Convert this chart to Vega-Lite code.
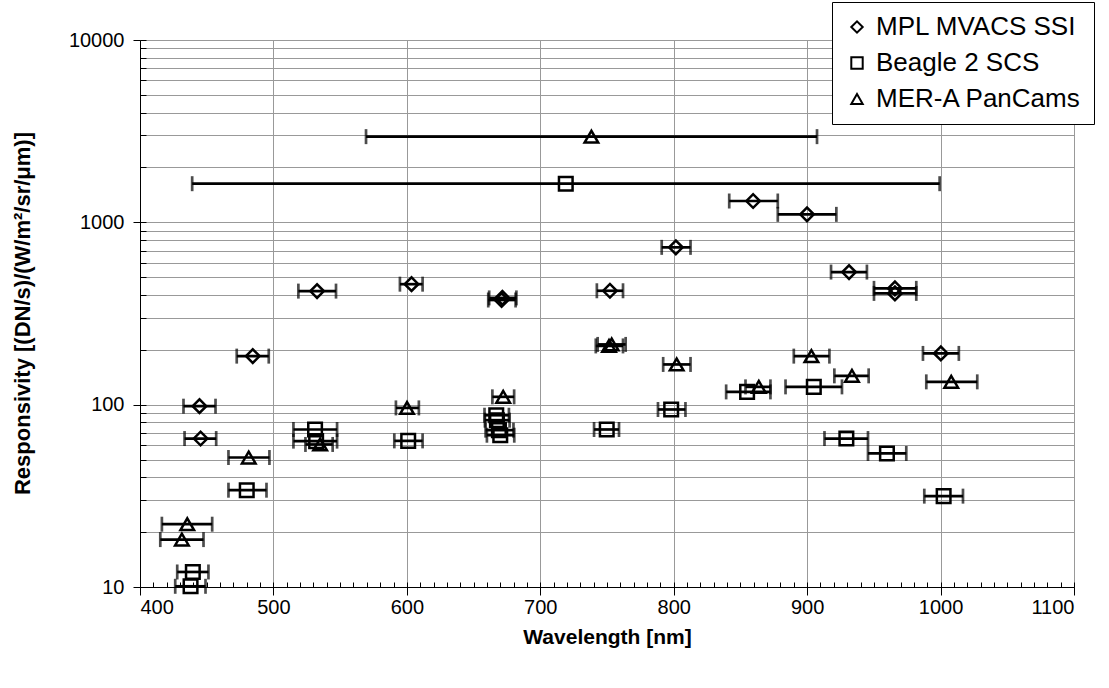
{
  "$schema": "https://vega.github.io/schema/vega-lite/v6.json",
  "width": 934,
  "height": 547,
  "autosize": "none",
  "padding": {"left": 140, "top": 40, "right": 35, "bottom": 101},
  "background": "white",
  "config": {
    "view": {"stroke": "black", "strokeWidth": 1},
    "font": "Liberation Sans",
    "axis": {
      "labelFont": "Liberation Sans",
      "titleFont": "Liberation Sans",
      "labelColor": "black",
      "titleColor": "black",
      "domainColor": "black",
      "tickColor": "black",
      "gridColor": "#999999",
      "gridOpacity": 1,
      "gridWidth": 1
    }
  },
  "datasets": {
    "pts": [
      {"s": "MPL MVACS SSI", "x": 444.6, "v": 98.1, "lo": 432.6, "hi": 456.6},
      {"s": "MPL MVACS SSI", "x": 445.4, "v": 65.2, "lo": 433.4, "hi": 457.1},
      {"s": "MPL MVACS SSI", "x": 484.5, "v": 184.6, "lo": 472.5, "hi": 496.5},
      {"s": "MPL MVACS SSI", "x": 532.7, "v": 419.6, "lo": 518.7, "hi": 546.9},
      {"s": "MPL MVACS SSI", "x": 603.5, "v": 458, "lo": 594.8, "hi": 611.8},
      {"s": "MPL MVACS SSI", "x": 671.6, "v": 385, "lo": 661.7, "hi": 682.1},
      {"s": "MPL MVACS SSI", "x": 671.0, "v": 375, "lo": 661.0, "hi": 681.5},
      {"s": "MPL MVACS SSI", "x": 752.2, "v": 421.4, "lo": 742.4, "hi": 762.0},
      {"s": "MPL MVACS SSI", "x": 801.6, "v": 729, "lo": 791.0, "hi": 812.6},
      {"s": "MPL MVACS SSI", "x": 859.5, "v": 1309, "lo": 841.6, "hi": 878.0},
      {"s": "MPL MVACS SSI", "x": 899.9, "v": 1106, "lo": 878.0, "hi": 921.9},
      {"s": "MPL MVACS SSI", "x": 931.4, "v": 533.6, "lo": 917.9, "hi": 944.8},
      {"s": "MPL MVACS SSI", "x": 965.8, "v": 434.3, "lo": 950.1, "hi": 981.8},
      {"s": "MPL MVACS SSI", "x": 965.8, "v": 407.6, "lo": 950.1, "hi": 981.8},
      {"s": "MPL MVACS SSI", "x": 1000.2, "v": 191, "lo": 986.8, "hi": 1013.7},
      {"s": "Beagle 2 SCS", "x": 719.1, "v": 1629, "lo": 439.1, "hi": 999.3},
      {"s": "Beagle 2 SCS", "x": 437.9, "v": 10.09, "lo": 426.4, "hi": 449.1},
      {"s": "Beagle 2 SCS", "x": 439.6, "v": 12.09, "lo": 427.9, "hi": 451.3},
      {"s": "Beagle 2 SCS", "x": 480.0, "v": 33.96, "lo": 466.3, "hi": 494.8},
      {"s": "Beagle 2 SCS", "x": 531.2, "v": 73.1, "lo": 515.0, "hi": 547.7},
      {"s": "Beagle 2 SCS", "x": 532.0, "v": 63.1, "lo": 515.0, "hi": 547.7},
      {"s": "Beagle 2 SCS", "x": 601.0, "v": 63.3, "lo": 590.6, "hi": 611.8},
      {"s": "Beagle 2 SCS", "x": 667.0, "v": 87.5, "lo": 658.2, "hi": 676.5},
      {"s": "Beagle 2 SCS", "x": 667.5, "v": 82.2, "lo": 658.5, "hi": 677.0},
      {"s": "Beagle 2 SCS", "x": 669.0, "v": 72.5, "lo": 659.0, "hi": 679.9},
      {"s": "Beagle 2 SCS", "x": 670.0, "v": 68.0, "lo": 660.0, "hi": 680.5},
      {"s": "Beagle 2 SCS", "x": 749.8, "v": 73.1, "lo": 740.3, "hi": 759.0},
      {"s": "Beagle 2 SCS", "x": 798.1, "v": 94.1, "lo": 788.2, "hi": 808.8},
      {"s": "Beagle 2 SCS", "x": 855.0, "v": 117.5, "lo": 839.3, "hi": 872.5},
      {"s": "Beagle 2 SCS", "x": 905.0, "v": 125.2, "lo": 883.8, "hi": 926.1},
      {"s": "Beagle 2 SCS", "x": 929.4, "v": 65.2, "lo": 913.0, "hi": 945.6},
      {"s": "Beagle 2 SCS", "x": 959.8, "v": 54.0, "lo": 945.6, "hi": 974.3},
      {"s": "Beagle 2 SCS", "x": 1002.3, "v": 31.5, "lo": 987.8, "hi": 1016.8},
      {"s": "MER-A PanCams", "x": 738.3, "v": 2951, "lo": 569.4, "hi": 907.4},
      {"s": "MER-A PanCams", "x": 435.4, "v": 22.1, "lo": 416.4, "hi": 454.1},
      {"s": "MER-A PanCams", "x": 431.4, "v": 18.2, "lo": 415.2, "hi": 447.6},
      {"s": "MER-A PanCams", "x": 481.5, "v": 51.3, "lo": 466.3, "hi": 497.0},
      {"s": "MER-A PanCams", "x": 535.0, "v": 60.5, "lo": 524.0, "hi": 544.4},
      {"s": "MER-A PanCams", "x": 600.1, "v": 96.0, "lo": 591.8, "hi": 609.0},
      {"s": "MER-A PanCams", "x": 672.2, "v": 110.4, "lo": 664.1, "hi": 680.4},
      {"s": "MER-A PanCams", "x": 751.5, "v": 210, "lo": 741.6, "hi": 762.0},
      {"s": "MER-A PanCams", "x": 753.5, "v": 214, "lo": 743.0, "hi": 764.0},
      {"s": "MER-A PanCams", "x": 802.2, "v": 166.2, "lo": 792.1, "hi": 812.6},
      {"s": "MER-A PanCams", "x": 863.8, "v": 125.2, "lo": 853.8, "hi": 872.5},
      {"s": "MER-A PanCams", "x": 903.2, "v": 184.6, "lo": 890.0, "hi": 916.7},
      {"s": "MER-A PanCams", "x": 933.6, "v": 143.9, "lo": 920.4, "hi": 946.1},
      {"s": "MER-A PanCams", "x": 1008.0, "v": 133.4, "lo": 989.3, "hi": 1027.5}
    ]
  },
  "data": {"name": "pts"},
  "layer": [
    {
      "mark": {"type": "rule", "color": "black", "strokeWidth": 2.7},
      "encoding": {
        "x": {
          "field": "lo",
          "type": "quantitative",
          "scale": {"domain": [400, 1100], "nice": false, "zero": false},
          "axis": {
            "orient": "bottom",
            "values": [400, 500, 600, 700, 800, 900, 1000, 1100],
            "format": "d",
            "grid": true,
            "tickSize": 8,
            "tickWidth": 1,
            "labelFontSize": 20,
            "labelPadding": 2,
            "title": "Wavelength [nm]",
            "titleFontSize": 21,
            "titleFontWeight": "bold",
            "titleBaseline": "middle",
            "titleX": 467,
            "titleY": 50
          }
        },
        "x2": {"field": "hi"},
        "y": {
          "field": "v",
          "type": "quantitative",
          "scale": {"type": "log", "domain": [10, 10000], "nice": false},
          "axis": {
            "orient": "left",
            "values": [10, 100, 1000, 10000],
            "format": "d",
            "grid": false,
            "tickSize": 7,
            "tickWidth": 1,
            "labelFontSize": 20,
            "labelPadding": 9,
            "title": "Responsivity [(DN/s)/(W/m²/sr/μm)]",
            "titleFontSize": 22,
            "titleFontWeight": "bold",
            "titleBaseline": "middle",
            "titleAngle": -90,
            "titleX": -118,
            "titleY": 273
          }
        }
      }
    },
    {
      "mark": {"type": "tick", "orient": "vertical", "color": "black", "size": 15, "thickness": 2.7},
      "encoding": {
        "x": {"field": "lo", "type": "quantitative", "axis": null},
        "y": {"field": "v", "type": "quantitative", "axis": null}
      }
    },
    {
      "mark": {"type": "tick", "orient": "vertical", "color": "black", "size": 15, "thickness": 2.7},
      "encoding": {
        "x": {"field": "hi", "type": "quantitative", "axis": null},
        "y": {"field": "v", "type": "quantitative", "axis": null}
      }
    },
    {
      "mark": {"type": "point", "filled": false, "strokeWidth": 2.5, "color": "black", "size": 185, "opacity": 1},
      "encoding": {
        "x": {
          "field": "x",
          "type": "quantitative",
          "axis": {
            "orient": "bottom",
            "values": [400,410,420,430,440,450,460,470,480,490,500,510,520,530,540,550,560,570,580,590,600,610,620,630,640,650,660,670,680,690,700,710,720,730,740,750,760,770,780,790,800,810,820,830,840,850,860,870,880,890,900,910,920,930,940,950,960,970,980,990,1000,1010,1020,1030,1040,1050,1060,1070,1080,1090,1100],
            "grid": false,
            "domain": false,
            "labels": false,
            "tickSize": -5,
            "tickWidth": 1,
            "title": null
          }
        },
        "y": {
          "field": "v",
          "type": "quantitative",
          "axis": {
            "orient": "left",
            "values": [10,20,30,40,50,60,70,80,90,100,200,300,400,500,600,700,800,900,1000,2000,3000,4000,5000,6000,7000,8000,9000,10000],
            "grid": true,
            "domain": false,
            "labels": false,
            "tickSize": -6,
            "tickWidth": 1,
            "title": null
          }
        },
        "shape": {
          "field": "s",
          "type": "nominal",
          "scale": {"domain": ["MPL MVACS SSI", "Beagle 2 SCS", "MER-A PanCams"], "range": ["diamond", "square", "triangle-up"]},
          "legend": {
            "title": null,
            "orient": "none",
            "legendX": 692,
            "legendY": -38,
            "strokeColor": "black",
            "fillColor": "white",
            "padding": 12,
            "labelFont": "Liberation Sans",
            "labelFontSize": 26,
            "labelColor": "black",
            "labelLimit": 600,
            "labelOffset": 6,
            "rowPadding": 10,
            "symbolSize": 130,
            "symbolStrokeColor": "black",
            "symbolStrokeWidth": 2,
            "symbolFillColor": "transparent"
          }
        }
      }
    }
  ],
  "resolve": {"axis": {"x": "independent", "y": "independent"}}
}
